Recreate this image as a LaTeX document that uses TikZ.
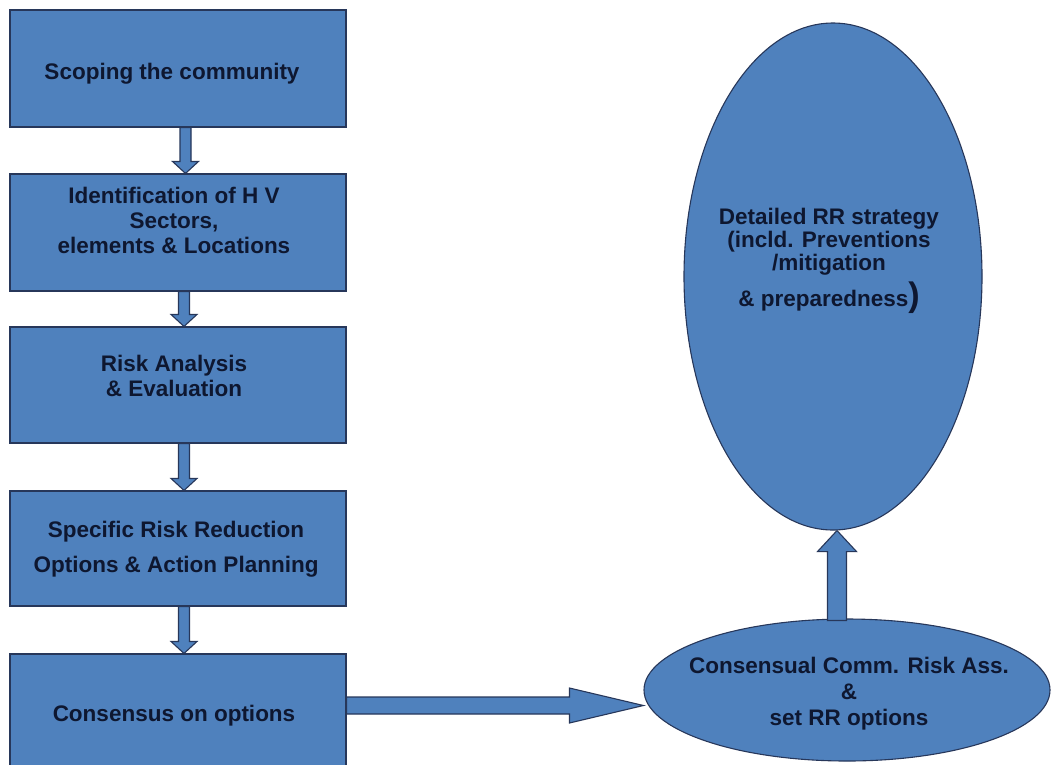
\documentclass[tikz,border=0pt]{standalone}
\usepackage{fontspec}
\setmainfont{Liberation Sans}
\usetikzlibrary{shapes.geometric,calc}
\definecolor{fillblue}{HTML}{4F81BD}
\definecolor{edgec}{HTML}{27375A}
\definecolor{textc}{HTML}{0E1730}
\tikzset{
  boxshape/.style={draw=edgec, fill=fillblue, line width=1.1pt, inner sep=0pt},
  ellshape/.style={ellipse, draw=edgec, fill=fillblue, line width=1.1pt, inner sep=0pt},
  txt/.style={text=textc, font=\fontsize{22.5}{25}\selectfont\bfseries, align=center, inner sep=0pt},
  blockarrow/.style={draw=edgec, fill=fillblue, line width=1.1pt, line join=miter}
}
\newcommand\blockdown[2]{%
  \path let \p1=(#1), \p2=(#2) in
    [blockarrow] (\x1-5.5pt,\y1) -- (\x1+5.5pt,\y1) -- (\x1+5.5pt,\y2+12pt) -- (\x1+13pt,\y2+12pt)
    -- (\x1,\y2) -- (\x1-13pt,\y2+12pt) -- (\x1-5.5pt,\y2+12pt) -- cycle;}
\begin{document}
\begin{tikzpicture}[x=1pt,y=-1pt]
\useasboundingbox (0,0) rectangle (1051,764);
\clip (0,0) rectangle (1051,764);
% boxes
\node[boxshape, minimum width=336pt, minimum height=117pt] (b1) at (178,68.5) {};
\node[boxshape, minimum width=336pt, minimum height=117pt] (b2) at (178,232.5) {};
\node[boxshape, minimum width=336pt, minimum height=116pt] (b3) at (178,385) {};
\node[boxshape, minimum width=336pt, minimum height=115pt] (b4) at (178,548.5) {};
\node[boxshape, minimum width=336pt, minimum height=130pt] (b5) at (178,719) {};
% ellipses
\node[ellshape, minimum width=298pt, minimum height=507pt] (e1) at (833,276.5) {};
\node[ellshape, minimum width=406pt, minimum height=142pt] (e2) at (847,690) {};
% texts
\node[txt] (t1) at (172,74) {Scoping the community};
\node[txt] (t2) at (174,220) {Identification of H V\\Sectors,\\elements \& Locations};
\node[txt] (t3) at (174,376) {Risk Analysis\\\& Evaluation};
\node[txt] (t4) at (176,549) {Specific Risk Reduction\\[10pt]Options \& Action Planning};
\node[txt] (t5) at (174,716) {Consensus on options};
\node[txt, font=\fontsize{22.5}{23}\selectfont\bfseries] (t6) at (829,261) {Detailed RR strategy\\ (incld. Preventions\\/mitigation\\[6pt]\& preparedness{\fontsize{34}{34}\selectfont)}};
\node[txt, font=\fontsize{22.5}{26}\selectfont\bfseries] (t7) at (849,694) {Consensual Comm. Risk Ass.\\\&\\set RR options};
% vertical block arrows
\coordinate (a1s) at ($(b1.south)+(7.5,0)$);
\coordinate (a1e) at ($(b2.north)+(7.5,0)$);
\blockdown{a1s}{a1e}
\coordinate (a2s) at ($(b2.south)+(6,0)$);
\coordinate (a2e) at ($(b3.north)+(6,0)$);
\blockdown{a2s}{a2e}
\coordinate (a3s) at ($(b3.south)+(6,0)$);
\coordinate (a3e) at ($(b4.north)+(6,0)$);
\blockdown{a3s}{a3e}
\coordinate (a4s) at ($(b4.south)+(6,0)$);
\coordinate (a4e) at ($(b5.north)+(6,0)$);
\blockdown{a4s}{a4e}
% horizontal arrow
\coordinate (hs) at ($(b5.east|-e2.west)+(0,15.5)$);
\coordinate (he) at ($(e2.west)+(0,15.5)$);
\path let \p1=(hs), \p2=(he) in
  [blockarrow] (\x1,\y1-8.5pt) -- (\x2-74pt,\y1-8.5pt) -- (\x2-74pt,\y1-17.5pt) -- (\x2,\y2)
  -- (\x2-74pt,\y1+17.5pt) -- (\x2-74pt,\y1+8.5pt) -- (\x1,\y1+8.5pt) -- cycle;
% up arrow
\coordinate (us) at ($(e2.north)+(-10,2)$);
\coordinate (ue) at ($(e1.south)+(4,0)$);
\path let \p1=(us), \p2=(ue) in
  [blockarrow] (\x1-9.5pt,\y1) -- (\x1-9.5pt,\y2-21pt) -- (\x1-19.5pt,\y2-21pt) -- (\x1,\y2)
  -- (\x1+19.5pt,\y2-21pt) -- (\x1+9.5pt,\y2-21pt) -- (\x1+9.5pt,\y1) -- cycle;
\end{tikzpicture}
\end{document}
